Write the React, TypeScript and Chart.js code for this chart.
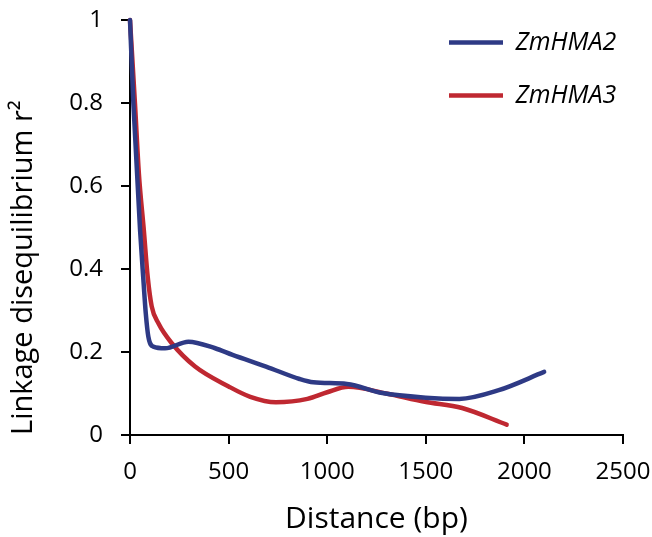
import React, { useEffect, useRef } from 'react';
import { Chart, registerables } from 'chart.js';

Chart.register(...registerables);

const seriesNames = ['ZmHMA2', 'ZmHMA3'];
const seriesColors = ['#2E3A85', '#BF2831'];

const zmhma2Distance = [0, 17, 51, 68, 80, 93, 118, 178, 296, 432, 520, 690, 860, 930, 1100, 1280, 1500, 1670, 1870, 2100];
const zmhma2R2 = [1.0, 0.8, 0.494, 0.373, 0.293, 0.237, 0.213, 0.209, 0.225, 0.209, 0.193, 0.165, 0.135, 0.127, 0.123, 0.101, 0.09, 0.087, 0.108, 0.152];

const zmhma3Distance = [0, 25, 45, 70, 90, 110, 144, 212, 330, 500, 610, 740, 900, 1000, 1107, 1300, 1495, 1684, 1910];
const zmhma3R2 = [1.0, 0.8, 0.63, 0.494, 0.38, 0.31, 0.269, 0.221, 0.165, 0.117, 0.092, 0.079, 0.087, 0.103, 0.116, 0.1, 0.08, 0.065, 0.025];

const xTicks = [0, 500, 1000, 1500, 2000, 2500];
const yTicks = [0, 0.2, 0.4, 0.6, 0.8, 1];
const yTickLabels = ['0', '0.2', '0.4', '0.6', '0.8', '1'];

const xTitle = 'Distance (bp)';
const yTitle = 'Linkage disequilibrium r²';

const toPoints = (xs: number[], ys: number[]) => xs.map((x, i) => ({ x, y: ys[i] }));

const legendPlacer = {
  id: 'legendPlacer',
  afterLayout(chart: any) {
    const lg = chart.legend;
    if (!lg) return;
    lg.left = 421;
    lg.top = 2;
    lg.right = 652;
    lg.bottom = 220;
    lg.width = 231;
    lg.height = 218;
  },
};

export default function App() {
  const ref = useRef<HTMLCanvasElement | null>(null);

  useEffect(() => {
    document.body.style.margin = '0';
    if (!ref.current) return;
    const font = 'Open Sans';
    const chart = new Chart(ref.current, {
      type: 'scatter',
      data: {
        datasets: [
          {
            label: seriesNames[0],
            data: toPoints(zmhma2Distance, zmhma2R2),
            borderColor: seriesColors[0],
            backgroundColor: seriesColors[0],
          },
          {
            label: seriesNames[1],
            data: toPoints(zmhma3Distance, zmhma3R2),
            borderColor: seriesColors[1],
            backgroundColor: seriesColors[1],
          },
        ].map((d) => ({
          ...d,
          showLine: true,
          borderWidth: 4.5,
          borderCapStyle: 'round' as const,
          borderJoinStyle: 'round' as const,
          pointRadius: 0,
          pointHoverRadius: 0,
          cubicInterpolationMode: 'monotone' as const,
          clip: false as const,
        })),
      },
      options: {
        animation: false,
        responsive: false,
        maintainAspectRatio: false,
        layout: { padding: { top: 20, right: 29, left: 0, bottom: 0 } },
        plugins: {
          tooltip: { enabled: false },
          legend: {
            display: true,
            position: 'chartArea',
            align: 'start',
            labels: {
              usePointStyle: true,
              pointStyle: 'line',
              pointStyleWidth: 54,
              padding: 28,
              color: '#000',
              font: { family: font, size: 25, style: 'italic' },
            },
          },
        },
        scales: {
          x: {
            type: 'linear',
            min: 0,
            max: 2500,
            afterBuildTicks: (s: any) => {
              s.ticks = xTicks.map((v) => ({ value: v }));
            },
            afterFit: (s: any) => {
              s.height = 102;
              s.paddingLeft = 0;
              s.paddingRight = 0;
            },
            grid: {
              display: true,
              drawOnChartArea: false,
              drawTicks: true,
              tickLength: 9,
              color: '#000',
              lineWidth: 2,
            },
            border: { display: true, color: '#000', width: 2 },
            ticks: {
              color: '#000',
              padding: 14,
              maxRotation: 0,
              font: { family: font, size: 24 },
              callback: (v: any) => String(v),
            },
            title: {
              display: true,
              text: xTitle,
              color: '#000',
              font: { family: font, size: 30 },
              padding: { top: 0, bottom: 0 },
            },
          },
          y: {
            type: 'linear',
            min: 0,
            max: 1,
            afterBuildTicks: (s: any) => {
              s.ticks = yTicks.map((v) => ({ value: v }));
            },
            afterFit: (s: any) => {
              s.width = 130;
              s.paddingTop = 0;
              s.paddingBottom = 0;
            },
            grid: {
              display: true,
              drawOnChartArea: false,
              drawTicks: true,
              tickLength: 9,
              color: '#000',
              lineWidth: 2,
            },
            border: { display: true, color: '#000', width: 2 },
            ticks: {
              color: '#000',
              padding: 18,
              font: { family: font, size: 24 },
              callback: (v: any) => {
                const i = yTicks.findIndex((t) => Math.abs(t - Number(v)) < 1e-9);
                return i >= 0 ? yTickLabels[i] : '';
              },
            },
            title: {
              display: true,
              text: yTitle,
              align: 'start',
              color: '#000',
              font: { family: font, size: 29 },
              padding: { top: 6, bottom: 0 },
            },
          },
        },
      },
      plugins: [legendPlacer],
    } as any);
    return () => chart.destroy();
  }, []);

  return (
    <div style={{ width: 652, height: 537 }}>
      <canvas ref={ref} width={652} height={537} style={{ display: 'block', width: 652, height: 537 }} />
    </div>
  );
}
